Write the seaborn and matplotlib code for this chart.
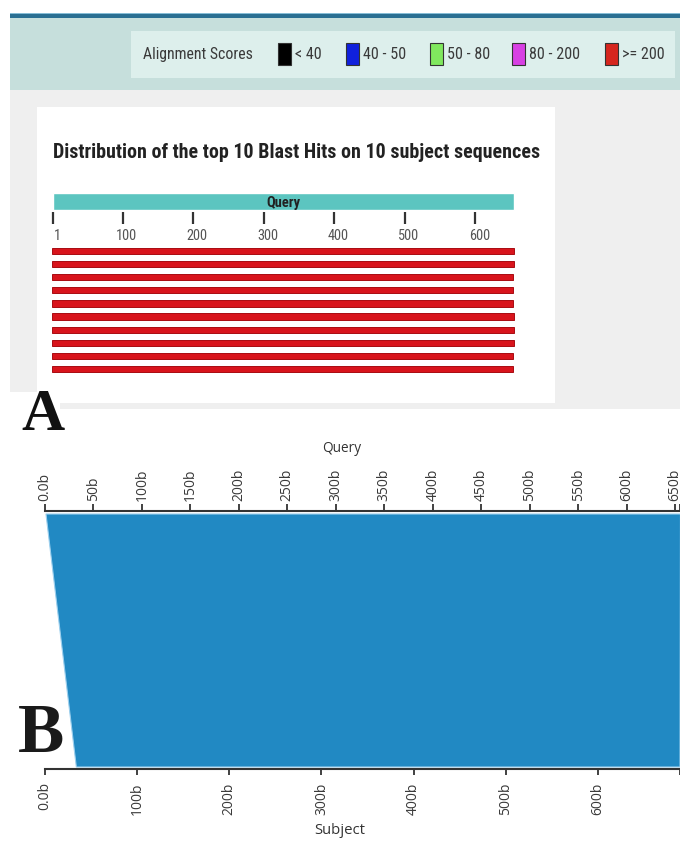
import numpy as np
import pandas as pd
import matplotlib
matplotlib.use("Agg")
import matplotlib.pyplot as plt
import matplotlib.patches as mpatches
import matplotlib.transforms as mtransforms
import matplotlib.font_manager as fm
import seaborn as sns

# ---------------- data ----------------
legend_title = "Alignment Scores"
legend_labels = ["< 40", "40 - 50", "50 - 80", "80 - 200", ">= 200"]
legend_colors = ["#000000", "#1020dc", "#80e85e", "#d840e4", "#d6261e"]

plot_title = "Distribution of the top 10 Blast Hits on 10 subject sequences"
hit_names = [f"Hit {i}" for i in range(1, 11)]
hit_ends = [655, 655, 653, 653, 653, 655, 655, 655, 653, 653]
query_len = 655
query_ticks_a = [1, 100, 200, 300, 400, 500, 600]

b_query_ticks = [0, 50, 100, 150, 200, 250, 300, 350, 400, 450, 500, 550, 600, 650]
b_query_labels = ["0.0b", "50b", "100b", "150b", "200b", "250b", "300b", "350b",
                  "400b", "450b", "500b", "550b", "600b", "650b"]
b_subject_ticks = [0, 100, 200, 300, 400, 500, 600]
b_subject_labels = ["0.0b", "100b", "200b", "300b", "400b", "500b", "600b"]
b_subject_len = 689
b_query_start, b_query_end = 1, 655
b_subj_start, b_subj_end = 34, 689

# ---------------- style ----------------
sns.set_theme(style="white")

# pick a narrow sans font if one is installed
_fonts = [(f.name, f.stretch) for f in fm.fontManager.ttflist]
_names = {n for n, _ in _fonts}
NARROW_FAMILY, NARROW_STRETCH = "Roboto", "normal"
for cand in ["Liberation Sans Narrow", "Roboto Condensed", "Open Sans Condensed",
             "Arial Narrow", "Noto Sans Condensed"]:
    if cand in _names:
        NARROW_FAMILY, NARROW_STRETCH = cand, "normal"
        break
else:
    for fam in ["Noto Sans", "DejaVu Sans", "Open Sans", "Roboto"]:
        if any(n == fam and s in ("condensed", "semi-condensed") for n, s in _fonts):
            NARROW_FAMILY, NARROW_STRETCH = fam, "condensed"
            break

NARROW = [NARROW_FAMILY, "DejaVu Sans"]
OPEN = ["Open Sans", "DejaVu Sans"]
SERIF = ["Liberation Serif", "DejaVu Serif"]
plt.rcParams["font.family"] = NARROW
plt.rcParams["font.stretch"] = NARROW_STRETCH

W, H = 680, 841
fig = plt.figure(figsize=(W / 100, H / 100), dpi=100)
fig.patch.set_facecolor("white")
renderer = fig.canvas.get_renderer()


def fit_width(t, target):
    bb = t.get_window_extent(renderer)
    t.set_fontsize(t.get_fontsize() * target / bb.width)


def fr(x0, y0, x1, y1):
    return [x0 / W, 1 - y1 / H, (x1 - x0) / W, (y1 - y0) / H]


bg = fig.add_axes([0, 0, 1, 1], zorder=0)
bg.set_xlim(0, W)
bg.set_ylim(H, 0)
bg.axis("off")


def rect(x0, y0, x1, y1, color, **kw):
    kw.setdefault("edgecolor", "none")
    bg.add_patch(mpatches.Rectangle((x0, y0), x1 - x0, y1 - y0, facecolor=color, **kw))


# page background of panel A
rect(10, 12.5, 680, 14, "#86bdd6")
rect(10, 14, 680, 17.5, "#2a6f92")
rect(10, 17.5, 680, 90, "#c6dfdc")
rect(131, 30.5, 675, 78, "#ddefec")
rect(10, 90, 680, 409, "#efefef")
rect(37, 107, 555, 403, "#ffffff")
rect(0, 392, 60, 440, "#ffffff")

# legend bar
t = bg.text(143, 54, legend_title, ha="left", va="center", fontsize=12, color="#3a3a3a")
fit_width(t, 110)
sq_x = [278, 346, 430, 512, 605]
probe = bg.text(0, -50, "80 - 200", fontsize=12)
fit_width(probe, 51)
lsize = probe.get_fontsize()
probe.remove()
for x, lab, col in zip(sq_x, legend_labels, legend_colors):
    rect(x, 43, x + 13, 65, col, edgecolor="#333333", linewidth=0.8)
    bg.text(x + 17, 54, lab, ha="left", va="center", fontsize=lsize, color="#3a3a3a")

# title
t = bg.text(53, 158, plot_title, ha="left", va="baseline", fontsize=14,
            fontweight="bold", color="#222222")
fit_width(t, 487)

# panel letters
bg.text(43, 430, "A", ha="center", va="baseline", fontsize=43, fontweight="bold",
        family=SERIF, color="#111111")
bg.text(41, 752, "B", ha="center", va="baseline", fontsize=50, fontweight="bold",
        family=SERIF, color="#1a1a1a")

# ---------------- panel A ----------------
ka = 0.705      # px per query base
rowpx = 13.11   # px per hit row
ax_a = fig.add_axes(fr(40, 185, 530, 380), zorder=2)
ax_a.patch.set_alpha(0)


def r(py):
    return (py - 251) / rowpx


sns.barplot(x=hit_ends, y=hit_names, orient="h", color="#d8141c", saturation=1,
            width=6.3 / rowpx, edgecolor="#a80c12", linewidth=0.7, ax=ax_a)
ax_a.barh(r(201.7), query_len - 1, left=1, height=16.7 / rowpx, color="#5cc5c0")
qt = ax_a.text((1 + query_len) / 2, r(203), "Query", ha="center", va="center",
               fontsize=10, fontweight="bold", color="#222222")
fit_width(qt, 34)
ax_a.vlines(query_ticks_a, r(212), r(223.5), color="#333333", lw=1.6)
off = mtransforms.ScaledTranslation(4 / 100, 0, fig.dpi_scale_trans)
probe = ax_a.text(0, 0, "100", fontsize=10)
fit_width(probe, 21)
tsize = probe.get_fontsize()
probe.remove()
for tk in query_ticks_a:
    ax_a.text(tk, r(236), str(tk), ha="center", va="center", fontsize=tsize,
              color="#555555", transform=ax_a.transData + off)
ax_a.set_xlim(1 - 13 / ka, 1 + 477 / ka)
ax_a.set_ylim(r(380), r(185))
ax_a.axis("off")

# ---------------- panel B ----------------
ax_s = fig.add_axes(fr(45, 511, 680, 769), zorder=2)
ax_s.patch.set_alpha(0)
s_max = 635 / 0.9222
q_max = 635 / 0.9708
ax_s.set_xlim(0, s_max)
ax_s.set_ylim(0, 1)
ax_q = ax_s.twiny()
ax_q.patch.set_alpha(0)
ax_q.set_xlim(0, q_max)

conv = s_max / q_max
top_y = (769 - 514) / 258
bot_y = (769 - 767) / 258
xs = [b_query_start * conv, b_query_end * conv, b_subj_end, b_subj_start]
ys = [top_y, top_y, bot_y, bot_y]
ax_s.fill(xs, ys, facecolor="#2189c3", edgecolor="#9dd0ee", linewidth=0.8)

for a in (ax_s, ax_q):
    for sp in a.spines.values():
        sp.set_visible(False)
    a.set_yticks([])
ax_s.spines["bottom"].set_visible(True)
ax_s.spines["bottom"].set_color("#333333")
ax_s.spines["bottom"].set_linewidth(1.5)
ax_q.spines["top"].set_visible(True)
ax_q.spines["top"].set_color("#333333")
ax_q.spines["top"].set_linewidth(1.5)

probe = bg.text(0, -50, "100b", fontsize=10, family=OPEN, fontstretch="normal")
fit_width(probe, 29)
bsize = probe.get_fontsize() * 1.12
probe.remove()

ax_s.set_xticks(b_subject_ticks, b_subject_labels, rotation=90, family=OPEN,
                fontstretch="normal")
ax_s.set_xticks([b_subject_len], minor=True)
ax_s.tick_params(axis="x", which="both", direction="out", length=4.5, width=1.3,
                 color="#333333", pad=5.0, labelsize=bsize, labelcolor="#3a3a3a",
                 bottom=True, top=False)
ax_q.set_xticks(b_query_ticks, b_query_labels, rotation=90, family=OPEN,
                fontstretch="normal")
ax_q.set_xticks([b_query_end], minor=True)
ax_q.tick_params(axis="x", which="both", direction="out", length=5, width=1.3,
                 color="#333333", pad=2.5, labelsize=bsize, labelcolor="#3a3a3a",
                 top=True, bottom=False)

ax_q.set_xlabel("Query", fontsize=10, color="#333333", family=OPEN, fontstretch="normal")
ax_q.xaxis.set_label_coords((342 - 45) / 635, (769 - 448) / 258)
ax_q.xaxis.label.set_va("center")
fit_width(ax_q.xaxis.label, 39)
ax_s.set_xlabel("Subject", fontsize=10, color="#333333", family=OPEN, fontstretch="normal")
ax_s.xaxis.set_label_coords((340 - 45) / 635, (769 - 831) / 258)
ax_s.xaxis.label.set_va("center")
fit_width(ax_s.xaxis.label, 51)

fig.savefig("out.png", dpi=100)
